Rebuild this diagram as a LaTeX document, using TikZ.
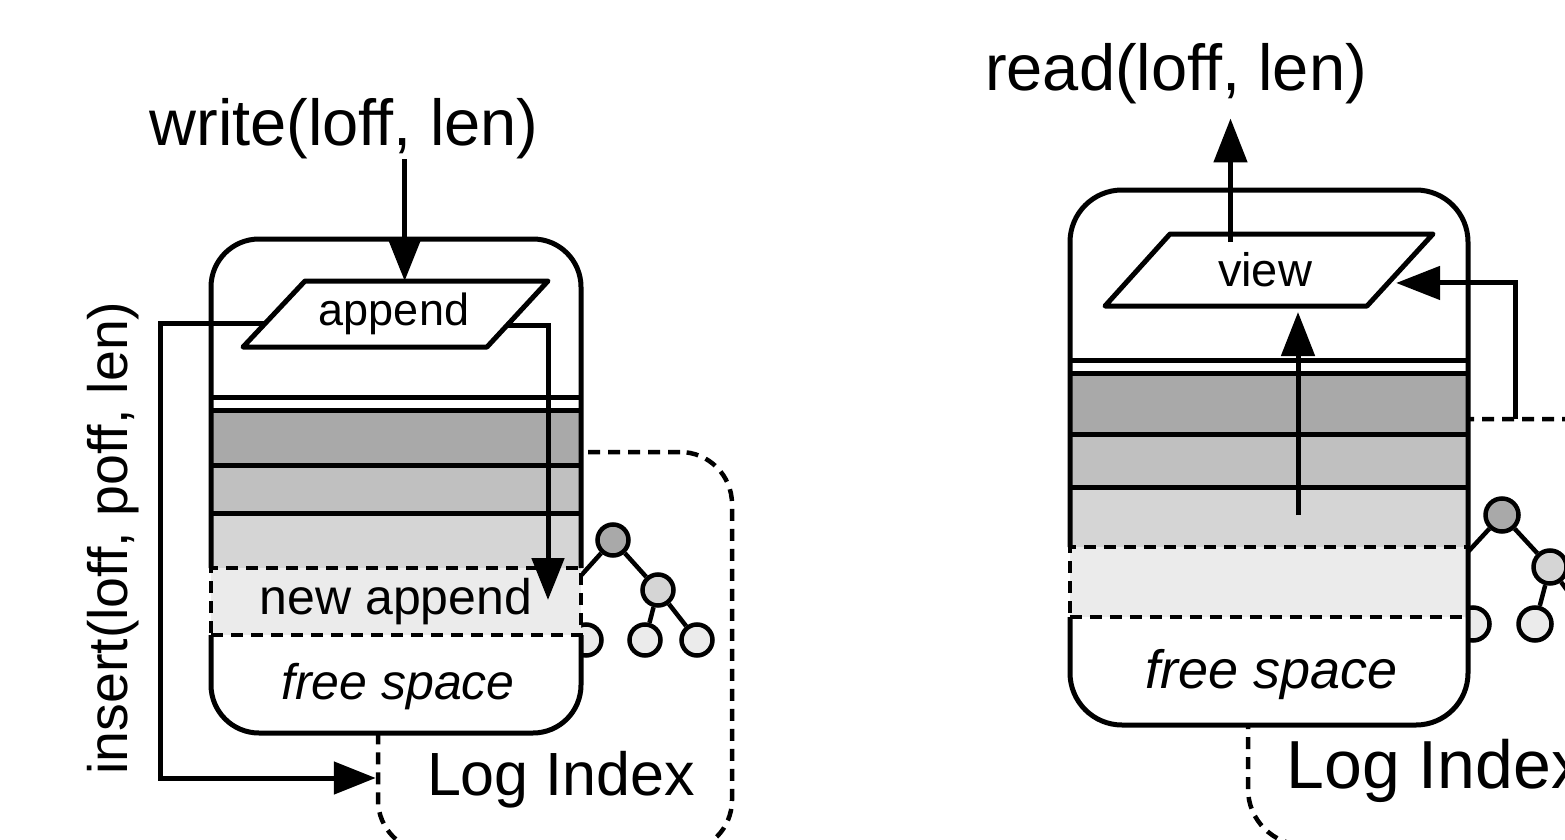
\documentclass[tikz,border=0pt]{standalone}
\usepackage{fontspec}
\setmainfont{Liberation Sans}
\usetikzlibrary{arrows.meta, calc, positioning}

\definecolor{darkband}{HTML}{A9A9A9}
\definecolor{midband}{HTML}{C0C0C0}
\definecolor{lightband}{HTML}{D5D5D5}
\definecolor{newband}{HTML}{EBEBEB}

\begin{document}
\begin{tikzpicture}[x=1pt, y=-1pt]
\tikzstyle{shell}=[line width=5pt, rounded corners=48pt]
\tikzstyle{band}=[line width=5pt]
\tikzstyle{fresh}=[draw, dash pattern=on 12pt off 8pt, line width=4.5pt, fill=newband, inner sep=0pt]
\tikzstyle{opframe}=[draw, line width=5pt, fill=white, line join=round]
\tikzstyle{logidx}=[draw, dash pattern=on 12pt off 8pt, line width=4.5pt, rounded corners=52pt, inner sep=0pt]
\tikzstyle{idxnode}=[circle, draw, line width=4.5pt, inner sep=0pt, minimum size=31pt]
\tikzstyle{treeline}=[line width=4.5pt]
\tikzstyle{connect}=[line width=5pt, -{Triangle[length=42pt, width=32pt]}]
\tikzstyle{call}=[inner sep=0pt, font=\fontsize{65}{70}\selectfont]
\useasboundingbox (0,0) rectangle (1565,840);
\clip (0,0) rectangle (1565,840);

% ---- left: write ----
\node[logidx, minimum width=354pt, minimum height=400pt] (lidx) at (555,652) {};
\node[inner sep=0pt, font=\fontsize{61}{66}\selectfont] (lidxlabel) at (561,780) {Log Index};

\node[idxnode, fill=darkband]  (lroot)  at (613,540) {};
\node[idxnode, fill=lightband] (lmid)   at (658,590) {};
\node[idxnode, fill=newband]   (lleafa) at (645,640) {};
\node[idxnode, fill=newband]   (lleafb) at (697,640) {};
\node[idxnode, fill=newband]   (lleafc) at (586,640) {};
\coordinate (lhid) at (568,590);
\draw[treeline] (lroot) -- (lhid)
                (lroot) -- (lmid)
                (lmid) -- (lleafa)
                (lmid) -- (lleafb);

\path[fill=white, rounded corners=48pt] (211,239) rectangle (581,733);
\fill[darkband]  (211,410) rectangle (581,465);
\fill[midband]   (211,465) rectangle (581,513);
\fill[lightband] (211,513) rectangle (581,568);
\draw[band] (211,397) -- (581,397)
            (211,410) -- (581,410)
            (211,465) -- (581,465)
            (211,513) -- (581,513);
\node[fresh, minimum width=370pt, minimum height=67pt, font=\fontsize{50}{55}\selectfont] (lnew) at (396,601.5) {new append};
\draw[shell] (211,568) |- (396,239) -| (581,568);
\draw[shell] (211,635) |- (396,733) -| (581,635);
\node[inner sep=0pt, font=\fontsize{50}{55}\selectfont\itshape] (lfree) at (398,687) {free space};

\coordinate (lappTL) at (305,281);
\coordinate (lappTR) at (548,281);
\coordinate (lappBR) at (487,347);
\coordinate (lappBL) at (243,347);
\draw[opframe] (lappTL) -- (lappTR) -- (lappBR) -- (lappBL) -- cycle;
\node[inner sep=0pt, font=\fontsize{45}{50}\selectfont] (lapp) at (394,314) {append};
\node[call] (wcall) at (344,129) {write(loff, len)};
\node[call, rotate=90, font=\fontsize{55.5}{60}\selectfont] (icall) at (113,538) {insert(loff, poff, len)};

\coordinate (lappin)  at ($(lappTL)!0.41!(lappTR)$);
\coordinate (lappout) at ($(lappBL)!0.36!(lappTL)$);
\coordinate (lappnew) at ($(lappBR)!0.33!(lappTR)$);
\coordinate (lturn) at (160,778);
\coordinate (lnewtip) at (548,600);
\draw[connect] (lappin |- wcall.south) -- (lappin);
\draw[connect] (lappout) -| (lturn) -- (lturn -| lidx.west);
\draw[connect] (lappnew) -| (lnewtip);

% ---- right: read ----
\node[logidx, rounded corners=56pt, minimum width=382pt, minimum height=426pt] (ridx) at (1439,632) {};
\node[inner sep=0pt, font=\fontsize{68}{72}\selectfont] (ridxlabel) at (1436,771) {Log Index};

\node[idxnode, fill=darkband, minimum size=33pt]  (rroot)  at (1502,515) {};
\node[idxnode, fill=lightband, minimum size=33pt] (rmid)   at (1550,567) {};
\node[idxnode, fill=newband, minimum size=33pt]   (rleafa) at (1535,624) {};
\node[idxnode, fill=newband, minimum size=33pt]   (rleafc) at (1473,624) {};
\coordinate (rhid) at (1454,567);
\coordinate (rleafb) at (1592,624);
\draw[treeline] (rroot) -- (rhid)
                (rroot) -- (rmid)
                (rmid) -- (rleafa)
                (rmid) -- (rleafb);

\path[fill=white, rounded corners=52pt] (1070,190) rectangle (1468,725);
\fill[darkband]  (1070,373) rectangle (1468,434);
\fill[midband]   (1070,434) rectangle (1468,487);
\fill[lightband] (1070,487) rectangle (1468,547);
\draw[band] (1070,360) -- (1468,360)
            (1070,373) -- (1468,373)
            (1070,434) -- (1468,434)
            (1070,487) -- (1468,487);
\node[fresh, minimum width=398pt, minimum height=70pt] (rnew) at (1269,582) {};
\draw[shell, rounded corners=52pt] (1070,547) |- (1269,190) -| (1468,617);
\draw[shell, rounded corners=52pt] (1070,617) |- (1269,725) -| (1468,617);
\node[inner sep=0pt, font=\fontsize{54}{58}\selectfont\itshape] (rfree) at (1272,675) {free space};

\coordinate (rviewTL) at (1170,234);
\coordinate (rviewTR) at (1433,234);
\coordinate (rviewBR) at (1367,306);
\coordinate (rviewBL) at (1105,306);
\draw[opframe] (rviewTL) -- (rviewTR) -- (rviewBR) -- (rviewBL) -- cycle;
\node[inner sep=0pt, font=\fontsize{47}{52}\selectfont] (rview) at (1265,270) {view};
\node[call, inner ysep=14pt] (rcall) at (1176,74) {read(loff, len)};

\coordinate (rviewout) at ($(rviewTL)!0.23!(rviewTR)$);
\coordinate (rviewin)  at ($(rviewBR)!0.32!(rviewTR)$);
\coordinate (rsrc) at (1298,515);
\coordinate (rturn) at (1515,419);
\draw[connect, -{Triangle[length=44pt, width=33pt]}] ([yshift=-8pt]rviewout) -- (rviewout |- rcall.south);
\draw[connect, -{Triangle[length=44pt, width=33pt]}, shorten >=6pt] (rsrc) -- (rsrc |- rviewBL);
\draw[connect, -{Triangle[length=44pt, width=33pt]}, shorten >=8pt] (rturn) |- (rviewin);
\end{tikzpicture}
\end{document}
